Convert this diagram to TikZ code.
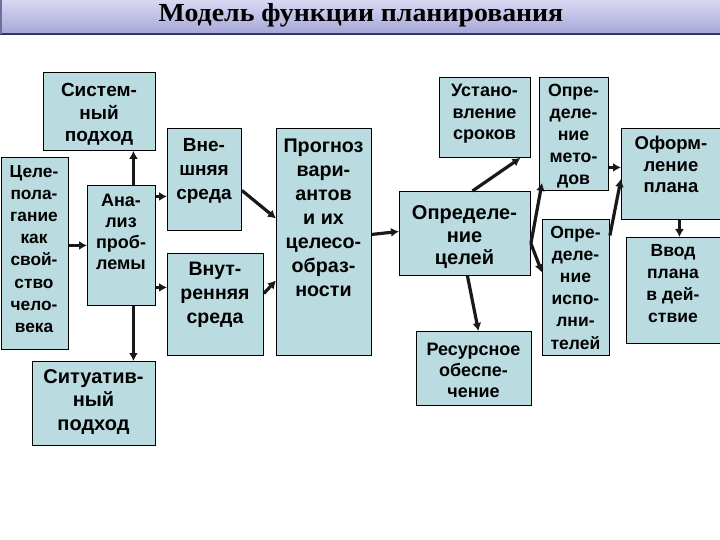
\documentclass[tikz,border=0pt]{standalone}
\usepackage{fontspec}
\usepackage{graphicx}
\setmainfont{Liberation Sans}
\newfontfamily\titlefont{Liberation Serif}
\usetikzlibrary{arrows.meta}
\definecolor{boxfill}{RGB}{186,220,224}
\definecolor{bartop}{RGB}{216,216,242}
\definecolor{barbot}{RGB}{166,166,216}
\definecolor{barline}{RGB}{50,50,110}
\tikzset{
  box/.style={draw=black, line width=0.9pt, fill=boxfill, inner sep=0pt, anchor=north west},
  txt/.style={align=center, inner sep=0pt, anchor=base, font=\fontsize{18}{22.5}\selectfont\bfseries},
  bigtxt/.style={txt, font=\fontsize{19}{24}\selectfont\bfseries},
  arr/.style={line width=3.2pt, draw=black!90, -{Latex[length=8pt,width=9pt]}}
}
\begin{document}
\begin{tikzpicture}[x=1pt,y=-1pt]
\useasboundingbox (0,0) rectangle (720,540);
\clip (0,0) rectangle (720,540);
% title bar
\shade[top color=bartop, bottom color=barbot] (0,0) rectangle (720,34);
\draw[barline, line width=1.5pt] (0,34) -- (720,34);
\draw[barline!70, line width=1.5pt] (0.75,0) -- (0.75,34);
\node[inner sep=0pt, anchor=base] (title) at (361,21.5) {\scalebox{1.07}[1]{\titlefont\fontsize{26}{30}\selectfont\bfseries Модель функции планирования}};

% boxes
\node[box, minimum width=112, minimum height=78] (sys) at (43,72) {};
\node[box, minimum width=67.5, minimum height=192] (cel) at (0.5,157) {};
\node[box, minimum width=68, minimum height=120] (an) at (87,185) {};
\node[box, minimum width=74, minimum height=102] (vne) at (167,128) {};
\node[box, minimum width=96, minimum height=102] (vnu) at (167,253) {};
\node[box, minimum width=123, minimum height=84] (sit) at (32,361) {};
\node[box, minimum width=95, minimum height=227] (prog) at (276,128) {};
\node[box, minimum width=91, minimum height=80] (srok) at (439,77) {};
\node[box, minimum width=131, minimum height=84] (celi) at (399,191) {};
\node[box, minimum width=115, minimum height=74] (res) at (416,331) {};
\node[box, minimum width=69, minimum height=113] (met) at (539,77) {};
\node[box, minimum width=67, minimum height=136] (isp) at (542,219) {};
\node[box, minimum width=103, minimum height=91] (oform) at (621,128) {};
\node[box, minimum width=98, minimum height=106] (vvod) at (626,237) {};

% texts (anchor = baseline of the last line)
\node[txt, font=\fontsize{19}{22.5}\selectfont\bfseries] (sysT) at (99,142) {Систем-\\ный\\подход};
\node[txt, font=\fontsize{17.3}{22.2}\selectfont\bfseries] (celT) at (34,332.4) {Целе-\\пола-\\гание\\как\\свой-\\ство\\чело-\\века};
\node[txt, font=\fontsize{18}{20.7}\selectfont\bfseries] (anT) at (121,269) {Ана-\\лиз\\проб-\\лемы};
\node[bigtxt] (vneT) at (204,200) {Вне-\\шняя\\среда};
\node[bigtxt, font=\fontsize{19.5}{24}\selectfont\bfseries] (vnuT) at (215,323) {Внут-\\ренняя\\среда};
\node[bigtxt, font=\fontsize{20}{23.5}\selectfont\bfseries] (sitT) at (93.5,430) {Ситуатив-\\ный\\подход};
\node[bigtxt, font=\fontsize{19.7}{24}\selectfont\bfseries] (progT) at (323.5,296) {Прогноз\\вари-\\антов\\и их\\целесо-\\образ-\\ности};
\node[txt, font=\fontsize{18}{21.5}\selectfont\bfseries] (srokT) at (484.5,140) {Устано-\\вление\\сроков};
\node[txt, font=\fontsize{20}{22}\selectfont\bfseries] (celiT) at (464.5,264) {Определе-\\ние\\целей};
\node[txt, font=\fontsize{18}{21}\selectfont\bfseries] (resT) at (473.5,397) {Ресурсное\\обеспе-\\чение};
\node[txt, font=\fontsize{17.7}{22}\selectfont\bfseries] (metT) at (573.5,185) {Опре-\\деле-\\ние\\мето-\\дов};
\node[txt, font=\fontsize{17.5}{22.2}\selectfont\bfseries] (ispT) at (575.5,349) {Опре-\\деле-\\ние\\испо-\\лни-\\телей};
\node[txt, font=\fontsize{18.5}{21.5}\selectfont\bfseries] (oformT) at (671,193) {Оформ-\\ление\\плана};
\node[txt, font=\fontsize{17.5}{21.7}\selectfont\bfseries] (vvodT) at (673,322) {Ввод\\плана\\в дей-\\ствие};

% connectors
\draw[arr] (cel.east |- an.west) -- (an.west);
\draw[arr] ([xshift=12pt]an.north) -- ([xshift=12pt]an.north |- sys.south);
\draw[arr] ([xshift=12pt]an.south) -- ([xshift=12pt]an.south |- sit.north);
\draw[arr] ([yshift=49pt]an.east) -- ([yshift=49pt]an.east -| vne.west);
\draw[arr] ([yshift=-42pt]an.east) -- ([yshift=-42pt]an.east -| vnu.west);
\draw[arr] ([yshift=-11pt]vne.east) -- ([yshift=23.5pt]prog.west);
\draw[arr] ([yshift=11pt]vnu.east) -- ([yshift=-38.5pt]prog.west);
\draw[arr] ([yshift=7.5pt]prog.east) -- ([yshift=2pt]celi.west);
\draw[arr] ([xshift=7.5pt]celi.north) -- ([xshift=35.5pt]srok.south);
\draw[arr] ([xshift=2.5pt]celi.south) -- ([xshift=4.5pt]res.north);
\coordinate (fork) at ([yshift=-10pt]celi.east);
\draw[arr] (fork) -- ([xshift=3pt,yshift=8pt]met.south west);
\draw[arr] (fork) -- ([yshift=15pt]isp.west);
\draw[arr] ([yshift=-33.5pt]met.east) -- ([yshift=-33.5pt]met.east -| oform.west);
\draw[arr] ([yshift=52pt]isp.east) -- ([yshift=-5pt]oform.west);
\draw[arr] ([xshift=6.5pt]oform.south) -- ([xshift=6.5pt]oform.south |- vvod.north);
\end{tikzpicture}
\end{document}
